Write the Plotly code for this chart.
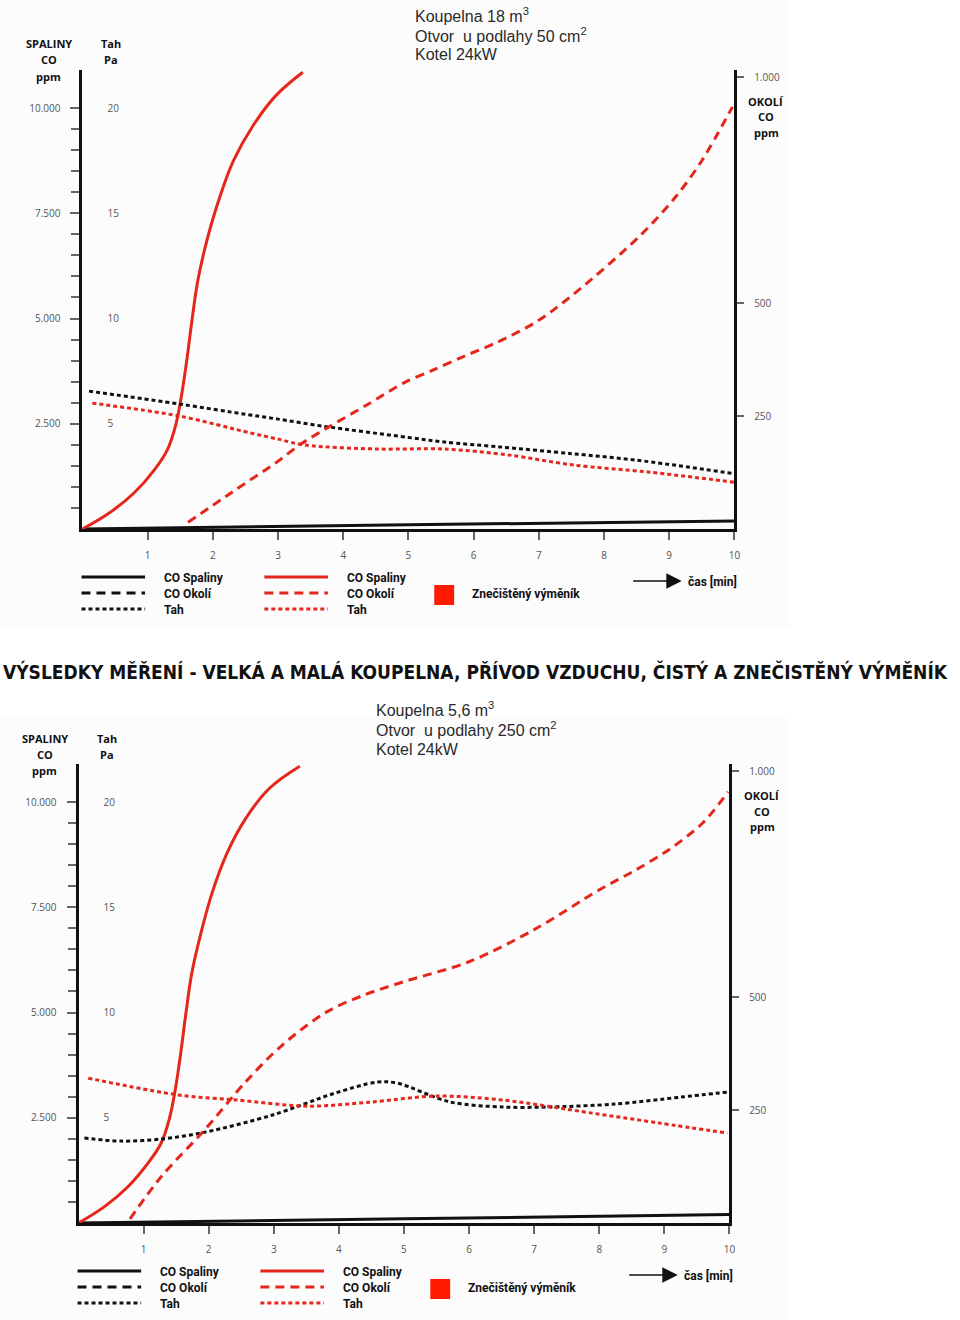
import plotly.graph_objects as go

# ---------------- data ----------------
x_tickvals = [1, 2, 3, 4, 5, 6, 7, 8, 9, 10]
spal_tickvals = [2500, 5000, 7500, 10000]
spal_ticktext = ["2.500", "5.000", "7.500", "10.000"]
spal_minor = [500, 1000, 1500, 2000, 3000, 3500, 4000, 4500, 5500, 6000,
              6500, 7000, 8000, 8500, 9000, 9500]
tah_tickvals = [5, 10, 15, 20]
okoli_tickvals = [250, 500, 1000]
okoli_ticktext = ["250", "500", "1.000"]

# top chart: Koupelna 18 m3 (clean = black, dirty exchanger = red)
top_black_spal_x = [0, 5, 10]
top_black_spal_y = [0, 100, 190]
top_black_tah_x = [0.1, 1.5, 2.5, 3.0, 3.7, 5.0, 5.55, 6.4, 7.5, 8.5, 10.0]
top_black_tah_y = [6.55, 5.93, 5.45, 5.22, 4.88, 4.35, 4.13, 3.9, 3.58, 3.27, 2.63]
top_red_spal_x = [0, 0.41, 0.79, 1.10, 1.30, 1.43, 1.52, 1.60, 1.68, 1.77, 1.91, 2.09, 2.32, 2.62, 2.97, 3.38]
top_red_spal_y = [0, 380, 855, 1400, 1875, 2470, 3180, 4010, 4960, 5910, 6860, 7810, 8760, 9590, 10300, 10850]
top_red_okoli_x = [1.62, 2.3, 3.0, 3.35, 3.77, 4.38, 4.94, 5.40, 5.85, 6.36, 6.97, 7.53, 8.54, 9.10, 9.51, 9.97]
top_red_okoli_y = [15, 82, 150, 188, 225, 276, 324, 353, 382, 413, 459, 519, 647, 735, 817, 934]
top_red_tah_x = [0.15, 1.48, 2.58, 3.0, 3.41, 4.53, 5.55, 6.55, 7.53, 8.7, 10.0]
top_red_tah_y = [5.98, 5.37, 4.56, 4.27, 3.99, 3.80, 3.80, 3.51, 3.04, 2.7, 2.22]

# bottom chart: Koupelna 5,6 m3
bot_black_spal_x = [0, 5, 10]
bot_black_spal_y = [0, 100, 200]
bot_black_tah_x = [0.09, 0.66, 1.28, 1.95, 2.98, 3.94, 4.58, 4.89, 5.71, 6.52, 7.21, 8.23, 9.25, 9.97]
bot_black_tah_y = [4.04, 3.89, 3.99, 4.32, 5.13, 6.17, 6.69, 6.65, 5.75, 5.51, 5.51, 5.65, 5.98, 6.22]
bot_red_spal_x = [0, 0.41, 0.77, 1.07, 1.27, 1.40, 1.49, 1.57, 1.65, 1.74, 1.88, 2.05, 2.28, 2.57, 2.93, 3.40]
bot_red_spal_y = [0, 400, 880, 1430, 1900, 2500, 3200, 4030, 4980, 5930, 6880, 7830, 8780, 9610, 10320, 10850]
bot_red_okoli_x = [0.79, 1.28, 1.95, 2.56, 3.11, 3.80, 4.4, 5.0, 6.0, 7.0, 8.0, 8.56, 9.07, 9.59, 9.98]
bot_red_okoli_y = [9, 104, 208, 311, 391, 466, 505, 534, 578, 649, 737, 781, 826, 885, 954]
bot_red_tah_x = [0.15, 1.54, 2.44, 3.53, 4.47, 5.50, 6.52, 7.89, 8.92, 9.97]
bot_red_tah_y = [6.88, 6.08, 5.84, 5.55, 5.74, 6.03, 5.84, 5.22, 4.75, 4.27]

# ---------------- styling ----------------
W, H = 960, 1320
BLACK = "#111111"
RED = "#e5261b"
GRAY = "#555555"
TICKC = "#666666"
DASH = "9px,6px"
DOT = "4px,3px"
TICKFONT = dict(family="Open Sans, Noto Sans, sans-serif", size=10, color=GRAY)
LABFONT = dict(family="Roboto, Open Sans, sans-serif", size=12, color=BLACK)
AXTFONT = dict(family="Open Sans, Noto Sans, sans-serif", size=11, color=BLACK)
BOXFONT = dict(family="Liberation Sans, Arial, sans-serif", size=16, color="#2a2a2a")


def px(x):
    return x / W


def py(y):
    return 1 - y / H


fig = go.Figure()


def add(xs, ys, xa, ya, color, dash=None, smooth=0.9):
    fig.add_trace(go.Scatter(
        x=xs, y=ys, xaxis=xa, yaxis=ya, mode="lines", showlegend=False,
        line=dict(color=color, width=3, dash=dash, shape="spline", smoothing=smooth),
        hoverinfo="skip"))


# top
add(top_black_spal_x, top_black_spal_y, "x", "y", BLACK)
add(top_black_tah_x, top_black_tah_y, "x", "y2", BLACK, DOT)
add(top_red_spal_x, top_red_spal_y, "x", "y", RED, None, 1.1)
add(top_red_okoli_x, top_red_okoli_y, "x", "y3", RED, DASH)
add(top_red_tah_x, top_red_tah_y, "x", "y2", RED, DOT)
# bottom
add(bot_black_spal_x, bot_black_spal_y, "x2", "y4", BLACK)
add(bot_black_tah_x, bot_black_tah_y, "x2", "y5", BLACK, DOT)
add(bot_red_spal_x, bot_red_spal_y, "x2", "y4", RED, None, 1.1)
add(bot_red_okoli_x, bot_red_okoli_y, "x2", "y6", RED, DASH)
add(bot_red_tah_x, bot_red_tah_y, "x2", "y5", RED, DOT)

SPAL_TOP = 10903
OK_TOP = 1015.5
TAH_TOP = 21.806


def xaxis_def(dom, anchor):
    return dict(domain=dom, range=[0, 10], anchor=anchor, showline=True,
                linecolor=BLACK, linewidth=3, ticks="outside", tickvals=x_tickvals,
                ticklen=8, tickcolor=TICKC, tickwidth=1.5, tickfont=TICKFONT,
                ticklabelstandoff=7, showgrid=False, zeroline=False)


def spal_def(dom, anchor):
    return dict(domain=dom, range=[0, SPAL_TOP], anchor=anchor, side="left",
                showline=True, linecolor=BLACK, linewidth=3, ticks="outside",
                tickvals=spal_tickvals, ticktext=spal_ticktext, ticklen=9,
                tickcolor=TICKC, tickwidth=1.5, tickfont=TICKFONT, ticklabelstandoff=8,
                minor=dict(tickvals=spal_minor, ticks="outside", ticklen=8,
                           tickcolor=TICKC, tickwidth=1.5),
                showgrid=False, zeroline=False)


def tah_def(over, anchor):
    return dict(overlaying=over, anchor=anchor, side="left", range=[0, TAH_TOP],
                tickvals=tah_tickvals, ticks="", showline=False,
                ticklabelposition="inside", ticklabelstandoff=22, tickfont=TICKFONT,
                showgrid=False, zeroline=False)


def okoli_def(over, anchor):
    return dict(overlaying=over, anchor=anchor, side="right", range=[0, OK_TOP],
                showline=True, linecolor=BLACK, linewidth=2.5, ticks="outside",
                tickvals=okoli_tickvals, ticktext=okoli_ticktext, ticklen=7,
                tickcolor=TICKC, tickwidth=1.5, tickfont=TICKFONT, ticklabelstandoff=8,
                showgrid=False, zeroline=False)


fig.update_layout(
    width=W, height=H, autosize=False,
    margin=dict(l=0, r=0, t=0, b=0),
    paper_bgcolor="white", plot_bgcolor="rgba(0,0,0,0)",
    xaxis=xaxis_def([px(83), px(739)], "y"),
    yaxis=spal_def([py(529), py(70)], "x"),
    yaxis2=tah_def("y", "x"),
    yaxis3=okoli_def("y", "x"),
    xaxis2=xaxis_def([px(79), px(734)], "y4"),
    yaxis4=spal_def([py(1223), py(764)], "x2"),
    yaxis5=tah_def("y4", "x2"),
    yaxis6=okoli_def("y4", "x2"),
)

shapes = []
annots = []

# faint panel backgrounds
shapes.append(dict(type="rect", xref="paper", yref="paper", x0=0, x1=px(795),
                   y0=py(628), y1=py(0), fillcolor="#fcfcfc", line=dict(width=0), layer="below"))
shapes.append(dict(type="rect", xref="paper", yref="paper", x0=0, x1=px(795),
                   y0=py(1320), y1=py(714), fillcolor="#fcfcfc", line=dict(width=0), layer="below"))


def text(x, y, t, font, xanchor="center"):
    annots.append(dict(x=px(x), y=py(y), xref="paper", yref="paper", text=t,
                       showarrow=False, font=font, xanchor=xanchor, yanchor="middle"))


def panel_decor(dy, dx, box_x, box_lines):
    # axis titles
    for i, t in enumerate(["SPALINY", "CO", "ppm"]):
        text(49 + dx, 44 + 16 * i + dy, "<b>%s</b>" % t, AXTFONT)
    for i, t in enumerate(["Tah", "Pa"]):
        text(112 + dx, 44 + 16 * i + dy, "<b>%s</b>" % t, AXTFONT)
    for i, t in enumerate(["OKOLÍ", "CO", "ppm"]):
        text(771 + dx, 101 + 16 * i + dy, "<b>%s</b>" % t, AXTFONT)
    # info box
    for i, t in enumerate(box_lines):
        text(box_x, 15 + 20 * i + dy, t, BOXFONT, xanchor="left")
    # legend
    styles = [None, DASH, DOT]
    names = ["CO Spaliny", "CO Okolí", "Tah"]
    for col, (color, x0, xl) in enumerate([(BLACK, 82, 163), (RED, 266, 347)]):
        for i in range(3):
            yy = 577 + 16 * i + dy
            shapes.append(dict(type="line", xref="paper", yref="paper",
                               x0=px(x0 + dx), x1=px(x0 + 64 + dx), y0=py(yy), y1=py(yy),
                               line=dict(color=color, width=3, dash=styles[i])))
            text(xl + dx, yy + 1, "<b>%s</b>" % names[i], LABFONT, xanchor="left")
    shapes.append(dict(type="rect", xref="paper", yref="paper",
                       x0=px(437 + dx), x1=px(457 + dx), y0=py(605 + dy), y1=py(585 + dy),
                       fillcolor="#ff1a00", line=dict(width=0)))
    text(473 + dx, 594 + dy, "<b>Znečištěný výměník</b>", LABFONT, xanchor="left")
    annots.append(dict(x=px(686 + dx), y=py(581 + dy), ax=-50, ay=0,
                       xref="paper", yref="paper", axref="pixel", ayref="pixel",
                       text="", showarrow=True, arrowhead=2, arrowsize=2.2,
                       arrowwidth=1.4, arrowcolor=BLACK, standoff=0, startstandoff=0))
    text(690 + dx, 581 + dy, "<b>čas [min]</b>", LABFONT, xanchor="left")


panel_decor(0, 0, 416, ["Koupelna 18 m<sup>3</sup>",
                        "Otvor  u podlahy 50 cm<sup>2</sup>",
                        "Kotel 24kW"])
panel_decor(694, -4, 376, ["Koupelna 5,6 m<sup>3</sup>",
                           "Otvor  u podlahy 250 cm<sup>2</sup>",
                           "Kotel 24kW"])

# central title
annots.append(dict(x=px(478), y=py(672), xref="paper", yref="paper",
                   text="<b>VÝSLEDKY MĚŘENÍ - VELKÁ A MALÁ KOUPELNA, PŘÍVOD VZDUCHU, ČISTÝ A ZNEČISTĚNÝ VÝMĚNÍK</b>",
                   showarrow=False, xanchor="center", yanchor="middle",
                   font=dict(family="DejaVu Sans Condensed, DejaVu Sans, sans-serif", size=19, color=BLACK)))

fig.update_layout(shapes=shapes, annotations=annots)
fig.write_html("out.html", config={"displayModeBar": False},
               post_script="document.body.style.margin='0';document.body.style.overflow='hidden';")
